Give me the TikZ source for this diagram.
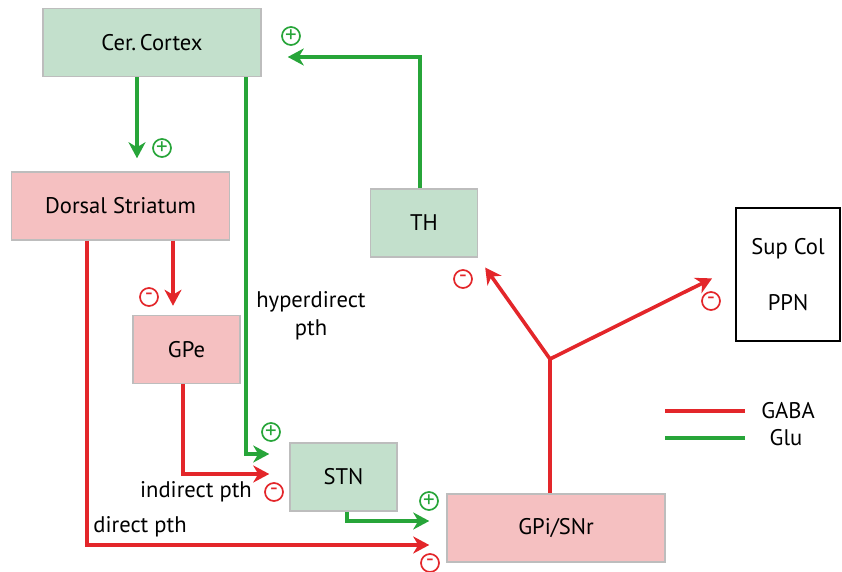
\documentclass[tikz,border=0pt]{standalone}
\usepackage{fontspec}
\setmainfont{PT Sans}
\usetikzlibrary{arrows.meta}

\definecolor{glugreen}{HTML}{27A539}
\definecolor{gabared}{HTML}{E3262A}
\definecolor{glufill}{HTML}{C3E0CC}
\definecolor{gabafill}{HTML}{F5C0C1}
\definecolor{boxline}{HTML}{BDBDBD}

\begin{document}
\begin{tikzpicture}[x=0.5pt, y=-0.5pt,
			>={Stealth[length=8pt, width=8.5pt, inset=2.5pt]},
			every node/.style={font=\fontsize{11.3}{13.5}\selectfont},
			region/.style={draw=boxline, line width=0.75pt, minimum height=34pt, inner sep=0pt},
			glubox/.style={region, fill=glufill},
			gababox/.style={region, fill=gabafill},
			wide/.style={minimum width=109pt},
			narrow/.style={minimum width=53.5pt},
			gluline/.style={draw=glugreen, line width=1.8pt},
			gabaline/.style={draw=gabared, line width=1.8pt},
			glu/.style={gluline, ->},
			gaba/.style={gabaline, ->},
			sign/.style={circle, draw, line width=0.85pt, minimum size=9pt, inner sep=0pt, font=\fontsize{11.5}{11.5}\selectfont},
			excite/.style={sign, draw=glugreen, text=glugreen},
			inhib/.style={sign, draw=gabared, text=gabared}
			]
			\useasboundingbox (0,0) rectangle (842,572);
			
			% Nuclei
			\node[glubox, wide] (Cortex) at (152,42.5) {Cer.\,Cortex};
			\node[gababox, wide] (Striatum) at (120.5,206) {Dorsal Striatum};
			\node[gababox, narrow] (GPe) at (186.5,349.5) {GPe};
			\node[glubox, narrow] (STN) at (343.5,477) {STN};
			\node[glubox, narrow] (TH) at (424,223) {TH};
			\node[gababox, wide] (GPi) at (556,528) {GPi/SNr};
			\node[draw=black, line width=1pt, minimum width=52pt, minimum height=66.5pt, align=center] (SupCol) at (788,275) {Sup Col\\[14.5pt]PPN};
			
			% Glutamate pathways
			\draw[glu, shorten >=6.5pt] ([xshift=-7.5pt]Cortex.south) -- ([xshift=-7.5pt]Cortex.south |- Striatum.north);
			\draw[glu, shorten >=10pt] ([xshift=47pt]Cortex.south) |- ([yshift=11.5pt]STN.west);
			\draw[glu, shorten >=13pt] ([xshift=-2pt]TH.north) |- ([yshift=-7.25pt]Cortex.east);
			\draw[glu, shorten >=8.5pt] ([xshift=1.75pt]STN.south) |- ([yshift=3.5pt]GPi.west);
			
			% GABA pathways
			\draw[gaba, shorten >=4.5pt] ([xshift=-6.75pt]GPe.north |- Striatum.south) -- ([xshift=-6.75pt]GPe.north);
			\draw[gaba, shorten >=8.5pt] ([xshift=-16.75pt]Striatum.south) |- ([yshift=-8.5pt]GPi.west);
			\draw[gaba, shorten >=10pt] ([xshift=-1.75pt]GPe.south) |- ([yshift=1.5pt]STN.west);
			
			% Output of GPi/SNr
			\coordinate (fork) at (550,359);
			\draw[gabaline] (GPi.north -| fork) -- (fork);
			\draw[gaba, shorten >=6pt] (fork) -- (TH.south east);
			\draw[gaba, shorten >=12.8pt] (fork) -- ([yshift=4pt]SupCol.west);
			
			% Signs
			\node[excite] (plusStr) at (162,148) {+};
			\node[excite] (plusCtx) at (291,36) {+};
			\node[excite] (plusHyp) at (271,432) {+};
			\node[excite] (plusGPi) at (429,501) {+};
			\node[inhib] (minGPe) at (149,297) {-};
			\node[inhib] (minSTN) at (274,492) {-};
			\node[inhib] (minGPi) at (430,563) {-};
			\node[inhib] (minTH) at (463,279) {-};
			\node[inhib] (minPPN) at (711,301) {-};
			
			% Labels
			\node[align=center] (hyperLbl) at (311,316) {hyperdirect\\[0.5pt]pth};
			\node (indirLbl) at (196,492) {indirect pth};
			\node (dirLbl) at (140,527) {direct pth};
			
			% Legend
			\node (gabaKey) at (788,411) {GABA};
			\node (gluKey) at (786,438) {Glu};
			\draw[gabaline] ([xshift=-4.5pt]gabaKey.west) -- ++(-80,0);
			\draw[gluline] ([xshift=-4.5pt]gabaKey.west |- gluKey) -- ++(-80,0);
			
		\end{tikzpicture}
\end{document}
